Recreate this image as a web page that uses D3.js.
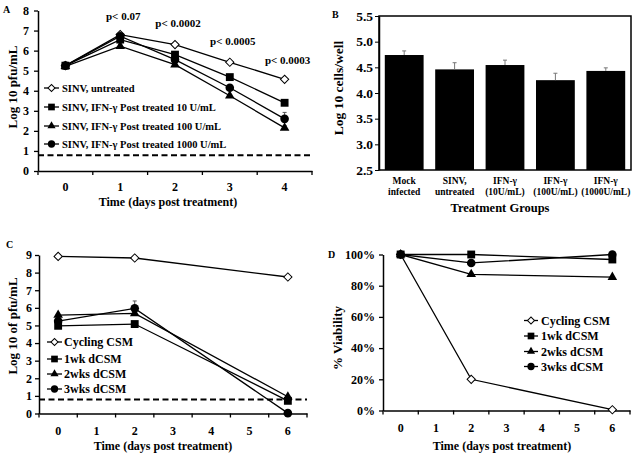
<!DOCTYPE html>
<html><head><meta charset="utf-8">
<script src="https://cdn.jsdelivr.net/npm/d3@7"></script>
<style>
body{margin:0;background:#fff}
svg text{font-family:"Liberation Serif","Times New Roman",serif;font-weight:bold;fill:#000}
</style>
</head><body>
<svg id="c" width="640" height="457"></svg>
<script>
// ---------- DATA ----------
// Panel A
const daysA = ["0","1","2","3","4"];
const namesA = ["SINV, untreated","SINV, IFN-γ Post treated 10 U/mL","SINV, IFN-γ Post treated 100 U/mL","SINV, IFN-γ Post treated 1000 U/mL"];
const aUntreated = [5.25, 6.8, 6.3, 5.42, 4.57];
const a10U = [5.25, 6.55, 5.8, 4.68, 3.4];
const a100U = [5.22, 6.22, 5.3, 3.75, 2.15];
const a1000U = [5.25, 6.72, 5.55, 4.15, 2.6];
const aUntreatedErr = [0, 0.08, 0, 0, 0];
const a10UErr = [0, 0.1, 0.05, 0, 0.12];
const a100UErr = [0, 0.1, 0.05, 0, 0.12];
const a1000UErr = [0, 0.15, 0.05, 0, 0.32];
const aLimit = 0.78;
const aTicks = [0,1,2,3,4,5,6,7,8];
const pLabels = ["p< 0.07","p< 0.0002","p< 0.0005","p< 0.0003"];
const pDays = ["1","2","3","4"];
const pLevels = [7.55, 7.18, 6.26, 5.31];

// Panel B
const groupsB = [["Mock","infected"],["SINV,","untreated"],["IFN-γ","(10U/mL)"],["IFN-γ","(100U/mL)"],["IFN-γ","(1000U/mL)"]];
const cellsB = [4.74, 4.46, 4.545, 4.25, 4.43];
const cellsBErr = [0.08, 0.13, 0.095, 0.135, 0.06];
const bTicks = [2.5,3.0,3.5,4.0,4.5,5.0,5.5];

// Panel C
const daysCD = ["0","1","2","3","4","5","6"];
const sampleDays = ["0","2","6"];
const namesCD = ["Cycling CSM","1wk dCSM","2wks dCSM","3wks dCSM"];
const cCycling = [8.92, 8.83, 7.75];
const c1wk = [4.98, 5.08, 0.72];
const c2wks = [5.59, 5.68, 0.95];
const c3wks = [5.25, 5.97, 0.02];
const c3wksErr = [0, 0.42, 0];
const cLimit = 0.8;
const cTicks = [0,1,2,3,4,5,6,7,8,9];

// Panel D
const dCycling = [100, 20, 0.5];
const d1wk = [100, 100, 96.8];
const d2wks = [100, 87.3, 85.5];
const d3wks = [100, 94.6, 100];
const dTicks = [0,20,40,60,80,100];

// ---------- DRAWING ----------
const svg = d3.select("#c");
const FONT = '"Liberation Serif","Times New Roman",serif';

function marker(g, type, cx, cy, s) {
  s = s || 1;
  let p;
  if (type === "square") p = g.append("path").attr("d", d3.symbol(d3.symbolSquare, 62*s*s)()).attr("fill","#000");
  else if (type === "circle") p = g.append("path").attr("d", d3.symbol(d3.symbolCircle, 58*s*s)()).attr("fill","#000");
  else if (type === "triangle") p = g.append("path").attr("d", d3.symbol(d3.symbolTriangle, 40*s*s)()).attr("fill","#000");
  else p = g.append("path").attr("d", d3.symbol(d3.symbolSquare, 34*s*s)()).attr("fill","#fff").attr("stroke","#000").attr("stroke-width",1);
  p.attr("transform", `translate(${cx},${cy})` + (type === "diamond" ? " rotate(45)" : ""));
}

function linePanel(o) {
  const g = svg.append("g");
  const x = d3.scaleBand().domain(o.cats).range([o.left, o.right]);
  const y = d3.scaleLinear().domain(o.yDomain).range([o.bottom, o.top]);
  const cx = d => x(d) + x.bandwidth()/2;

  if (o.limit != null) {
    g.append("line").attr("x1", o.left).attr("x2", o.right)
      .attr("y1", y(o.limit)).attr("y2", y(o.limit))
      .attr("stroke","#000").attr("stroke-width",2).attr("stroke-dasharray","6,3.5");
  }
  // y axis
  const yg = g.append("g").attr("transform",`translate(${o.left},0)`)
    .call(d3.axisLeft(y).tickValues(o.yTicks).tickSize(4).tickSizeOuter(0).tickPadding(o.yPad).tickFormat(o.yFormat));
  yg.select(".domain").attr("stroke-width",1.5);
  yg.selectAll(".tick line").attr("stroke-width",1.3);
  yg.selectAll("text").style("font-size", o.yFont+"px").style("font-family",FONT).style("font-weight","bold").attr("fill","#000");
  // x axis
  const xg = g.append("g").attr("transform",`translate(0,${o.bottom})`)
    .call(d3.axisBottom(x).tickSize(0).tickSizeOuter(0).tickPadding(o.xPad));
  xg.select(".domain").attr("stroke-width",1.5);
  xg.selectAll("text").style("font-size", o.xFont+"px").style("font-family",FONT).style("font-weight","bold").attr("fill","#000");
  g.selectAll(".bt").data(d3.range(o.cats.length+1)).join("line")
    .attr("x1", i => x.range()[0] + i*x.step()).attr("x2", i => x.range()[0] + i*x.step())
    .attr("y1", o.bottom).attr("y2", o.bottom+4).attr("stroke","#000").attr("stroke-width",1.3);

  // series
  o.series.forEach(s => {
    const pts = s.values.map((v,i) => ({k: o.xs[i], v, e: s.errs ? s.errs[i] : 0}));
    g.append("path").datum(pts)
      .attr("d", d3.line().x(d => cx(d.k)).y(d => y(d.v)))
      .attr("fill","none").attr("stroke","#000").attr("stroke-width",1.3);
    pts.forEach(d => {
      if (d.e > 0) {
        g.append("line").attr("x1", cx(d.k)).attr("x2", cx(d.k)).attr("y1", y(d.v)).attr("y2", y(d.v+d.e)).attr("stroke","#555").attr("stroke-width",1);
        g.append("line").attr("x1", cx(d.k)-2).attr("x2", cx(d.k)+2).attr("y1", y(d.v+d.e)).attr("y2", y(d.v+d.e)).attr("stroke","#555").attr("stroke-width",1);
      }
    });
  });
  o.series.forEach(s => {
    s.values.forEach((v,i) => marker(g, s.marker, cx(o.xs[i]), y(v), s.size || 1));
  });

  // legend
  o.series.forEach((s,i) => {
    const ly = o.legend.rows[i];
    g.append("line").attr("x1", o.legend.x1).attr("x2", o.legend.x2).attr("y1", ly).attr("y2", ly).attr("stroke","#000").attr("stroke-width",1.3);
    marker(g, s.marker, (o.legend.x1+o.legend.x2)/2, ly, 0.85);
    g.append("text").attr("x", o.legend.tx).attr("y", ly).attr("dy","0.35em")
      .style("font-size", o.legend.font+"px").text(s.name);
  });

  // titles
  g.append("text").attr("x", o.xTitle.x).attr("y", o.xTitle.y).attr("text-anchor","middle")
    .style("font-size", o.xTitle.font+"px").text(o.xTitle.text);
  g.append("text").attr("transform", `translate(${o.yTitle.x},${o.yTitle.y}) rotate(-90)`).attr("text-anchor","middle")
    .style("font-size", o.yTitle.font+"px").text(o.yTitle.text);
  g.append("text").attr("x", o.letter.x).attr("y", o.letter.y).style("font-size","10px").text(o.letter.text);
  return {g, x, y, cx};
}

// Panel A
const A = linePanel({
  cats: daysA, xs: daysA, left: 38, right: 312, top: 10.5, bottom: 171,
  yDomain: [0, 8], yTicks: aTicks, yFormat: d3.format("d"), yPad: 5, yFont: 12,
  xPad: 11.5, xFont: 12, limit: aLimit,
  series: [
    {name: namesA[0], values: aUntreated, errs: aUntreatedErr, marker: "diamond"},
    {name: namesA[1], values: a10U, errs: a10UErr, marker: "square"},
    {name: namesA[2], values: a100U, errs: a100UErr, marker: "triangle"},
    {name: namesA[3], values: a1000U, errs: a1000UErr, marker: "circle"}
  ],
  legend: {rows: [88, 107, 126, 144], x1: 44, x2: 59, tx: 62, font: 10.5},
  xTitle: {x: 168, y: 206, text: "Time (days post treatment)", font: 12},
  yTitle: {x: 17, y: 87, text: "Log 10 pfu/mL", font: 13},
  letter: {x: 3, y: 13, text: "A"}
});
A.g.selectAll(".plab").data(pLabels).join("text")
  .attr("x", (d,i) => A.cx(pDays[i]) + 3).attr("y", (d,i) => A.y(pLevels[i]))
  .attr("text-anchor","middle").style("font-size","11px").text(d => d);

// Panel C
linePanel({
  cats: daysCD, xs: sampleDays, left: 39, right: 307, top: 255, bottom: 413.5,
  yDomain: [0, 9], yTicks: cTicks, yFormat: d3.format("d"), yPad: 3, yFont: 12,
  xPad: 13, xFont: 12, limit: cLimit,
  series: [
    {name: namesCD[0], values: cCycling, marker: "diamond"},
    {name: namesCD[1], values: c1wk, marker: "square"},
    {name: namesCD[2], values: c2wks, marker: "triangle"},
    {name: namesCD[3], values: c3wks, errs: c3wksErr, marker: "circle"}
  ],
  legend: {rows: [342, 359, 374, 389], x1: 47, x2: 62, tx: 64, font: 12},
  xTitle: {x: 163, y: 450, text: "Time (days post treatment)", font: 12},
  yTitle: {x: 17, y: 326, text: "Log 10 of pfu/mL", font: 13},
  letter: {x: 6, y: 248, text: "C"}
});

// Panel D
linePanel({
  cats: daysCD, xs: sampleDays, left: 383, right: 630, top: 254.5, bottom: 410.5,
  yDomain: [0, 100], yTicks: dTicks, yFormat: d => d + "%", yPad: 4, yFont: 12,
  xPad: 12.5, xFont: 12, limit: null,
  series: [
    {name: namesCD[0], values: dCycling, marker: "diamond"},
    {name: namesCD[1], values: d1wk, marker: "square"},
    {name: namesCD[2], values: d2wks, marker: "triangle"},
    {name: namesCD[3], values: d3wks, marker: "circle"}
  ],
  legend: {rows: [320.5, 336, 351.5, 366.5], x1: 524, x2: 538, tx: 541, font: 12},
  xTitle: {x: 502, y: 450, text: "Time (days post treatment)", font: 12},
  yTitle: {x: 342, y: 338, text: "% Viability", font: 13},
  letter: {x: 328, y: 258, text: "D"}
});

// Panel B
(function(){
  const left = 379, right = 631, top = 16, bottom = 170;
  const g = svg.append("g");
  const x = d3.scaleBand().domain(d3.range(groupsB.length)).range([left, right]).paddingInner(0.23).paddingOuter(0.115);
  const y = d3.scaleLinear().domain([2.5, 5.5]).range([bottom, top]);
  g.selectAll(".bar").data(cellsB).join("rect")
    .attr("x", (d,i) => x(i)).attr("width", x.bandwidth())
    .attr("y", d => y(d)).attr("height", d => bottom - y(d)).attr("fill","#000");
  cellsB.forEach((v,i) => {
    const c = x(i) + x.bandwidth()/2;
    g.append("line").attr("x1", c).attr("x2", c).attr("y1", y(v)).attr("y2", y(v+cellsBErr[i])).attr("stroke","#777").attr("stroke-width",1);
    g.append("line").attr("x1", c-2).attr("x2", c+2).attr("y1", y(v+cellsBErr[i])).attr("y2", y(v+cellsBErr[i])).attr("stroke","#777").attr("stroke-width",1);
  });
  g.append("rect").attr("x", left).attr("y", top).attr("width", right-left).attr("height", bottom-top)
    .attr("fill","none").attr("stroke","#000").attr("stroke-width",1.5);
  const yg = g.append("g").attr("transform",`translate(${left},0)`)
    .call(d3.axisLeft(y).tickValues(bTicks).tickSize(4).tickSizeOuter(0).tickPadding(2).tickFormat(d3.format(".1f")));
  yg.select(".domain").attr("stroke-width",1.5);
  yg.selectAll("text").style("font-size","13.5px").style("font-family",FONT).style("font-weight","bold").attr("fill","#000");
  groupsB.forEach((lines,i) => {
    const c = x(i) + x.bandwidth()/2;
    lines.forEach((t,j) => {
      g.append("text").attr("x", c).attr("y", 184 + j*11).attr("text-anchor","middle").style("font-size","9.5px").text(t);
    });
  });
  g.append("text").attr("x", 500).attr("y", 212).attr("text-anchor","middle").style("font-size","12.5px").text("Treatment Groups");
  g.append("text").attr("transform","translate(343,88) rotate(-90)").attr("text-anchor","middle").style("font-size","13.5px").text("Log 10 cells/well");
  g.append("text").attr("x", 332).attr("y", 18).style("font-size","10px").text("B");
})();
</script>
</body></html>
